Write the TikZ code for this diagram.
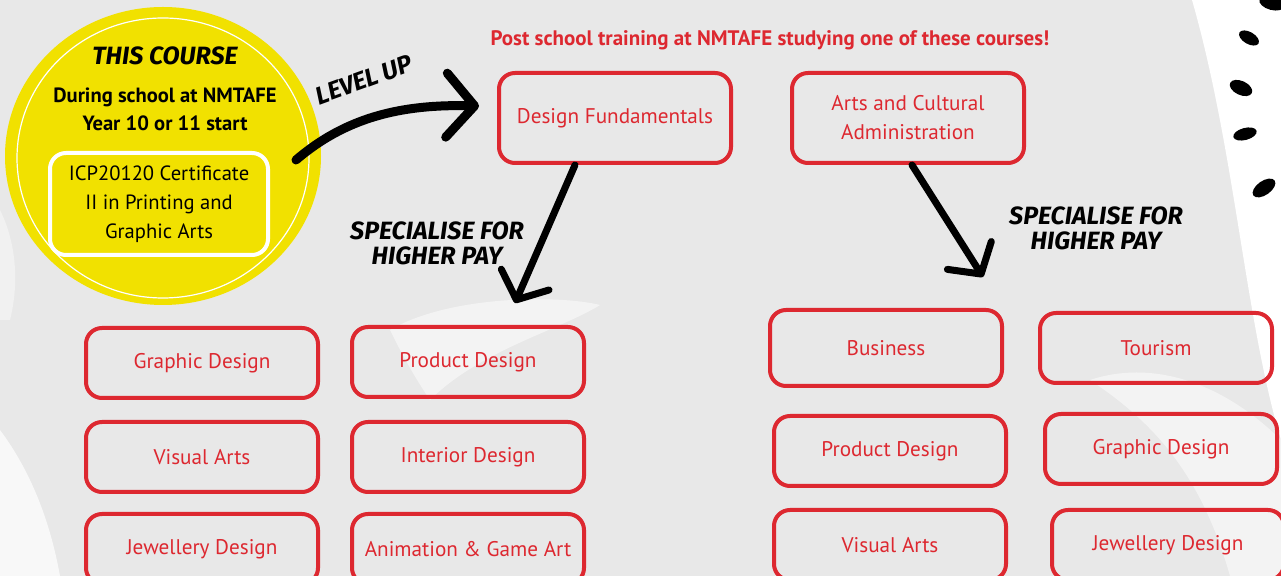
\documentclass[tikz,border=0pt]{standalone}
\usepackage{fontspec}
\setmainfont{PT Sans}
\newfontfamily\handfont{Fira Sans}
\usetikzlibrary{arrows.meta,shapes.geometric,positioning}
\definecolor{tafered}{RGB}{221,40,48}
\definecolor{tafeyellow}{RGB}{241,225,0}
\definecolor{bggray}{RGB}{232,232,232}
\begin{document}
\begin{tikzpicture}[x=0.5pt,y=-0.5pt,line join=round,line cap=round,
	course/.style={draw=tafered,line width=2pt,rounded corners=8pt,minimum width=116pt,minimum height=35pt,
		text=tafered,font=\fontsize{10.6}{14.5}\selectfont,align=center},
	hand/.style={font=\handfont\bfseries\itshape\fontsize{12.5}{12.5}\selectfont,align=center},
	bigarrow/.style={line width=4.5pt,-{Straight Barb[round,length=14pt,width=32pt]}},
	downarrow/.style={line width=3.5pt,-{Straight Barb[round,length=11pt,width=26pt]}}]
	\def\W{1281} \def\H{576}
	\useasboundingbox (0,0) rectangle (\W,\H);
	\clip (0,0) rectangle (\W,\H);
	% background and brush strokes
	\fill[bggray] (0,0) rectangle (\W,\H);
	\fill[white] (1192,0) .. controls (1235,150) and (1245,320) .. (1281,440) -- (1281,0) -- cycle;
	\fill[white,opacity=0.5] (1090,380) .. controls (1150,420) and (1200,470) .. (1230,576) -- (1281,576) -- (1281,440) .. controls (1220,380) and (1150,360) .. cycle;
	\fill[white,opacity=0.5] (390,330) .. controls (450,295) and (560,295) .. (600,305) .. controls (560,330) and (480,350) .. (430,400) .. controls (410,370) and (400,350) .. cycle;
	\fill[white,opacity=0.7] (0,430) .. controls (30,470) and (50,520) .. (60,576) -- (0,576) -- cycle;
	\fill[white,opacity=0.4] (0,210) .. controls (15,240) and (20,280) .. (10,320) -- (0,320) -- cycle;
	\foreach \cx/\cy/\ang/\rx/\ry in {1272/3/-15/13/7, 1249/38/-30/11/6, 1241/88/-25/12/7, 1245/134/15/12/6, 1264/188/35/13/7}
		\fill[black,rotate around={\ang:(\cx,\cy)}] (\cx,\cy) ellipse [x radius=\rx, y radius=\ry];
	% this course
	\node (crs) [ellipse,fill=tafeyellow,minimum width=158pt,minimum height=149pt] at (163,156) {};
	\draw[white,line width=0.6pt] (163,158) ellipse [x radius=146, y radius=140];
	\node (thc) [hand,font=\handfont\bfseries\itshape\fontsize{12.5}{14}\selectfont] at (165,56) {THIS COURSE};
	\node (dur) [font=\bfseries\fontsize{10.3}{14}\selectfont,align=center] at (165,109) {During school at NMTAFE\\Year 10 or 11 start};
	\node (cert) [draw=white,line width=2pt,rounded corners=8pt,minimum width=109pt,minimum height=51pt,
		font=\fontsize{10.3}{14.5}\selectfont,align=center] at (159,204) {ICP20120 Certificate\\II in Printing and\\Graphic Arts};
	% post school courses
	\node (ttl) [text=tafered,font=\bfseries\fontsize{10.5}{12}\selectfont] at (770,40) {Post school training at NMTAFE studying one of these courses!};
	\node (df) [course,minimum height=45pt] at (615,118) {Design Fundamentals};
	\node (aca) [course,minimum height=45pt] at (908,118) {Arts and Cultural\\Administration};
	\node (gd1) [course] at (202,363) {Graphic Design};
	\node (pd1) [course] at (468,362) {Product Design};
	\node (va1) [course] at (202,457) {Visual Arts};
	\node (id1) [course] at (468,457) {Interior Design};
	\node (jd1) [course] at (202,549) {Jewellery Design};
	\node (ag1) [course] at (468,549) {Animation \& Game Art};
	\node (bus) [course,minimum height=38pt] at (886,348) {Business};
	\node (tour) [course] at (1156,348) {Tourism};
	\node (pd2) [course] at (890,451) {Product Design};
	\node (gd2) [course] at (1161,449) {Graphic Design};
	\node (va2) [course] at (890,545) {Visual Arts};
	\node (jd2) [course] at (1168,545) {Jewellery Design};
	% arrows
	\coordinate (lu) at (296,160);
	\coordinate (sp1) at (515,303);
	\coordinate (sp2) at (983,277);
	\draw[bigarrow] (lu) .. controls (345,118) and (400,104) .. ([xshift=-9pt,yshift=6pt]df.west);
	\draw[downarrow] ([xshift=-20pt]df.south) -- (sp1);
	\draw[downarrow] ([xshift=2pt]aca.south) -- (sp2);
	\node (lvl) [hand,rotate=20] at (364,80) {LEVEL UP};
	\node (spl) [hand] at (437,243) {SPECIALISE FOR\\HIGHER PAY};
	\node (spr) [hand] at (1096,228) {SPECIALISE FOR\\HIGHER PAY};
\end{tikzpicture}
\end{document}
